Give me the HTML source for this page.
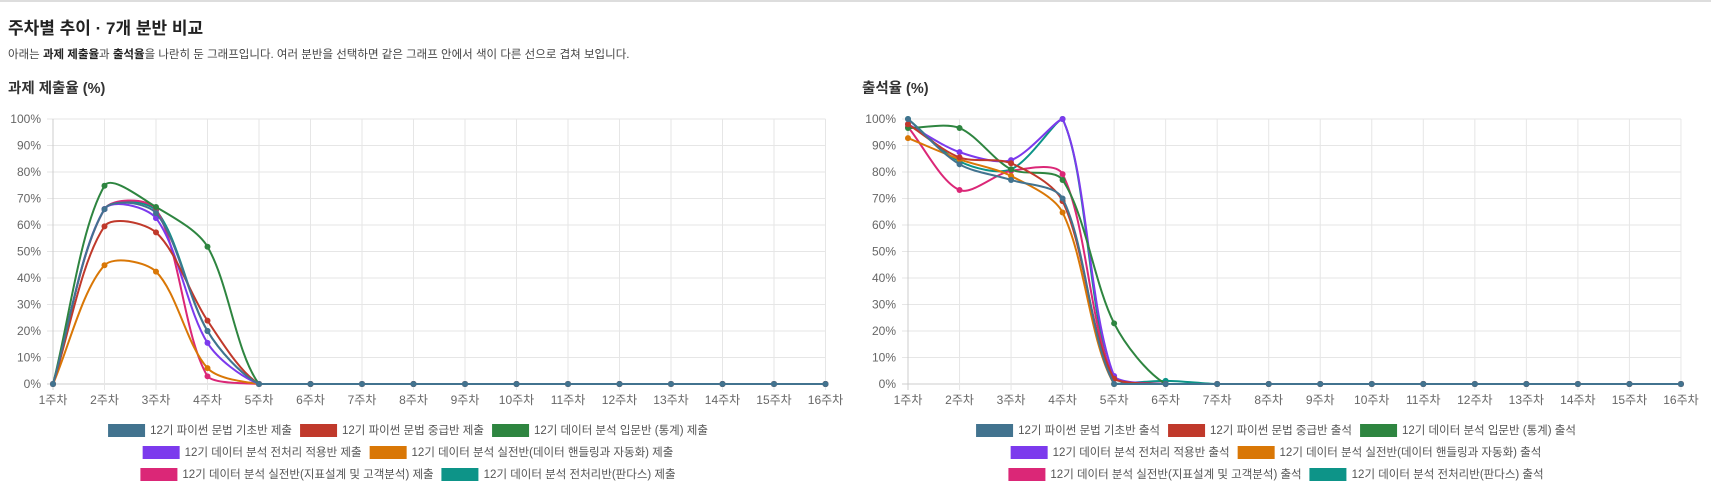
<!DOCTYPE html>
<html><head><meta charset="utf-8">
<style>
body{margin:0;width:1711px;height:495px;overflow:hidden;background:#fff;font-family:"Liberation Sans","Noto Sans CJK KR",sans-serif;color:#222;position:relative}
.topline{position:absolute;left:0;top:0;width:1711px;height:2px;background:#ddd}
h1{position:absolute;left:8px;top:14px;margin:0;font-size:17px;font-weight:bold;color:#222}
.sub{position:absolute;left:8px;top:46px;font-size:11.5px;color:#444}
.sub b{color:#222}
h2{position:absolute;top:77px;margin:0;font-size:14.5px;font-weight:bold;color:#333}
svg{position:absolute;left:0;top:0}
.leg{position:absolute;transform:translateX(-50%);display:flex;align-items:center;white-space:nowrap;font-size:11.5px;color:#555}
.leg span.b{display:inline-block;width:37px;height:13px;margin-right:5px}
.leg .it{display:flex;align-items:center;margin:0 4px}
</style></head><body>
<div class="topline"></div>
<h1>주차별 추이 · 7개 분반 비교</h1>
<div class="sub">아래는 <b>과제 제출율</b>과 <b>출석율</b>을 나란히 둔 그래프입니다. 여러 분반을 선택하면 같은 그래프 안에서 색이 다른 선으로 겹쳐 보입니다.</div>
<h2 style="left:8px">과제 제출율 (%)</h2>
<h2 style="left:862px">출석율 (%)</h2>
<svg id="s" width="1711" height="495" font-family="Liberation Sans, sans-serif"></svg>
<div id="legs"></div>
<script>
(function(){
const C=['#42738f','#c0392b','#2e8540','#7c3aed','#d97706','#db2777','#0d9488'];
const N=['12기 파이썬 문법 기초반','12기 파이썬 문법 중급반','12기 데이터 분석 입문반 (통계)','12기 데이터 분석 전처리 적용반','12기 데이터 분석 실전반(데이터 핸들링과 자동화)','12기 데이터 분석 실전반(지표설계 및 고객분석)','12기 데이터 분석 전처리반(판다스)'];
function pad(a){while(a.length<16)a.push(0);return a;}
const L=[[0,66,64.5,20],[0,59.5,57.2,23.9],[0,74.8,66.8,51.8],[0,66,62.6,15.5],[0,44.8,42.4,6],[0,66,66,2.9],[0,66,65.5,20]].map(pad);
const R=[[100,82.9,77,70],[98,85.5,83.3,69,2],[96.6,96.6,81,77,22.9],[98,87.5,84.5,100,3],[92.8,84.8,78.5,64.7],[97,73.2,80.4,79.2,2],[100,84,81,100,0,1.2]].map(pad);
const T=119,B=384,TEN=0.3;
let h='';
function chart(x0,step,data){
  const x1=x0+15*step;
  for(let i=0;i<=10;i++){const y=B-(B-T)*i/10;
    h+=`<line x1="${x0-6}" x2="${x1}" y1="${y}" y2="${y}" stroke="${i==0?'#ccc':'#e6e6e6'}"/>`;
    h+=`<text x="${x0-12}" y="${y+4}" font-size="12" fill="#666" text-anchor="end">${i*10}%</text>`;}
  for(let i=0;i<16;i++){const x=x0+i*step;
    h+=`<line x1="${x}" x2="${x}" y1="${T}" y2="${B+6}" stroke="${i==0?'#ccc':'#e6e6e6'}"/>`;
    h+=`<text x="${x}" y="${B+20}" font-size="12" fill="#666" text-anchor="middle" font-family="Liberation Sans, Noto Sans CJK KR, sans-serif">${i+1}주차</text>`;}
  for(let d=data.length-1;d>=0;d--){
    const p=data[d].map((v,i)=>[x0+i*step,B-(B-T)*v/100]);
    const cl=y=>Math.max(T,Math.min(B,y));
    const cp=p.map((c,i)=>{const pr=p[i-1]||c,nx=p[i+1]||c;
      const d01=Math.hypot(c[0]-pr[0],c[1]-pr[1]),d12=Math.hypot(nx[0]-c[0],nx[1]-c[1]);
      const s=d01+d12;const s01=s?d01/s:0,s12=s?d12/s:0;const fa=TEN*s01,fb=TEN*s12;
      return [[c[0]-fa*(nx[0]-pr[0]),cl(c[1]-fa*(nx[1]-pr[1]))],[c[0]+fb*(nx[0]-pr[0]),cl(c[1]+fb*(nx[1]-pr[1]))]];});
    let path=`M${p[0][0]},${p[0][1]}`;
    for(let i=1;i<p.length;i++)path+=`C${cp[i-1][1][0]},${cp[i-1][1][1]} ${cp[i][0][0]},${cp[i][0][1]} ${p[i][0]},${p[i][1]}`;
    h+=`<path d="${path}" fill="none" stroke="${C[d]}" stroke-width="2"/>`;
    p.forEach(q=>h+=`<circle cx="${q[0]}" cy="${q[1]}" r="3" fill="${C[d]}"/>`);
  }
}
chart(53,51.5,L);
chart(908,51.53,R);
document.getElementById('s').innerHTML=h;
function leg(cx,suf){
  const rows=[[0,1,2],[3,4],[5,6]],ys=[422,444,466];let o='';
  rows.forEach((r,k)=>{o+=`<div class="leg" style="left:${cx}px;top:${ys[k]}px">`+r.map(i=>`<div class="it"><span class="b" style="background:${C[i]}"></span>${N[i]} ${suf}</div>`).join('')+'</div>';});
  return o;}
document.getElementById('legs').innerHTML=leg(408,'제출')+leg(1276,'출석');
})();
</script>
</body></html>
